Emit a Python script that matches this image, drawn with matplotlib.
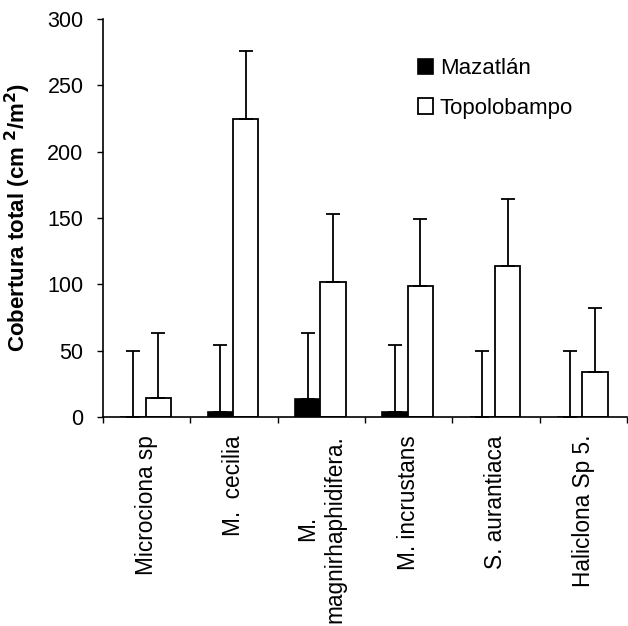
import numpy as np
import matplotlib
matplotlib.use('Agg')
import matplotlib.pyplot as plt

# 数据
species = ['Microciona sp', 'M.  cecilia', 'M.\nmagnirhaphidifera.',
           'M. incrustans', 'S. aurantiaca', 'Haliclona Sp 5.']
mazatlan = [0, 4, 13.5, 3.5, 0, 0]
mazatlan_err = [50, 50, 50, 50.5, 50, 50]
topolobampo = [14.5, 224.6, 102, 99, 114, 34]
topolobampo_err = [49, 51, 50.7, 50.5, 50.5, 48]

plt.rcParams['font.family'] = ['Liberation Sans', 'DejaVu Sans']

fig = plt.figure(figsize=(6.28, 6.26), dpi=100)
ax = fig.add_axes([103 / 628, 1 - 417 / 626, 524 / 628, 398 / 626])

x = np.arange(len(species))
w = 0.29
err_kw = dict(ecolor='black', elinewidth=1.3, capsize=4.7, capthick=1.3)

ax.bar(x + 0.345, mazatlan, w, color='black', edgecolor='black', linewidth=1.2,
       yerr=[np.zeros(len(x)), mazatlan_err], error_kw=err_kw, label='Mazatlán', zorder=2)
ax.bar(x + 0.635, topolobampo, w, color='white', edgecolor='black', linewidth=1.3,
       yerr=[np.zeros(len(x)), topolobampo_err], error_kw=err_kw, label='Topolobampo', zorder=2)

ax.set_xlim(0, len(species))
ax.set_ylim(0, 300)
ax.set_yticks(np.arange(0, 301, 50))
ax.tick_params(axis='y', labelsize=15.5, length=4, width=1, direction='out', pad=10)

# 分类边界刻度 + 居中标签
ax.set_xticks(np.arange(0, len(species) + 1))
ax.set_xticklabels([])
ax.tick_params(axis='x', which='major', length=4.5, width=1, direction='out')
ax.set_xticks(x + 0.5, minor=True)
ax.set_xticklabels(species, minor=True, rotation=90, fontsize=16.3, ha='center', va='top')
ax.tick_params(axis='x', which='minor', length=0, pad=13)

for side in ['top', 'right']:
    ax.spines[side].set_visible(False)
for side in ['left', 'bottom']:
    ax.spines[side].set_linewidth(1.2)

ax.set_ylabel('Cobertura total (cm $^{\\mathbf{2}}$/m$^{\\mathbf{2}}$)', fontsize=16,
              fontweight='bold')
ax.yaxis.set_label_coords(-(103 - 33) / 524, 0.5)

fig.legend(loc='upper left', bbox_to_anchor=(418 / 628, 1 - 58 / 626), frameon=False,
           fontsize=16, handlelength=0.68, handleheight=0.68, handletextpad=0.3,
           labelspacing=0.85, borderaxespad=0, borderpad=0)

fig.savefig('out.png', dpi=100)
